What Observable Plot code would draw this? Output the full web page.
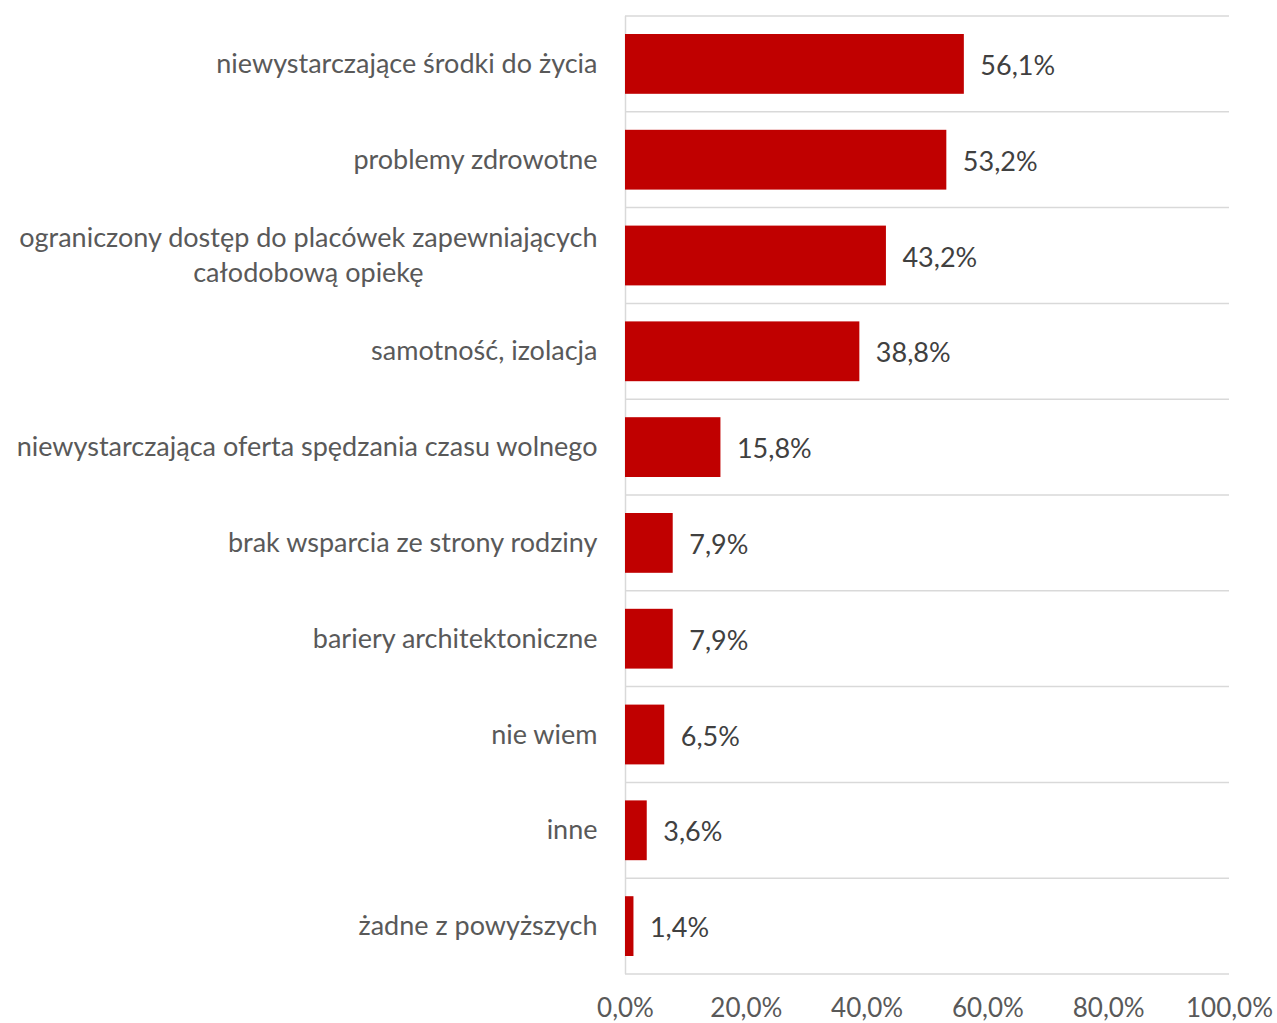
<!DOCTYPE html>
<html>
<head>
<meta charset="utf-8">
<script src="https://cdn.jsdelivr.net/npm/d3@7"></script>
<script src="https://cdn.jsdelivr.net/npm/@observablehq/plot@0.6"></script>
<style>
  html, body { margin: 0; padding: 0; background: #fff; }
  #chart svg { display: block; }
</style>
</head>
<body>
<div id="chart"></div>
<script>
const categories = [
  "niewystarczające środki do życia",
  "problemy zdrowotne",
  "ograniczony dostęp do placówek zapewniających\ncałodobową opiekę",
  "samotność, izolacja",
  "niewystarczająca oferta spędzania czasu wolnego",
  "brak wsparcia ze strony rodziny",
  "bariery architektoniczne",
  "nie wiem",
  "inne",
  "żadne z powyższych"
];
const values = [56.1, 53.2, 43.2, 38.8, 15.8, 7.9, 7.9, 6.5, 3.6, 1.4];
const xTicks = [0, 20, 40, 60, 80, 100];

const data = categories.map((c, i) => ({category: c, value: values[i]}));
const fmt = v => v.toFixed(1).replace(".", ",") + "%";
const FONT = "Lato, 'Open Sans', sans-serif";
const GRID = "#d9d9d9";

// horizontal gridlines at the band boundaries, drawn from the library's scales
const bandGrid = (index, scales) => {
  const {x, y} = scales;
  const g = d3.create("svg:g").attr("stroke", GRID).attr("stroke-width", 1.5);
  const edges = categories.map(c => y(c));
  edges.push(y(categories[categories.length - 1]) + y.bandwidth());
  for (const e of edges) {
    g.append("line")
      .attr("x1", x(0)).attr("x2", x(100))
      .attr("y1", e).attr("y2", e);
  }
  return g.node();
};

const chart = Plot.plot({
  width: 1277,
  height: 1023,
  marginLeft: 625,
  marginRight: 48,
  marginTop: 16,
  marginBottom: 49,
  style: {fontFamily: FONT, background: "#fff"},
  x: {domain: [0, 100]},
  y: {domain: categories, padding: 0, round: false},
  marks: [
    bandGrid,
    Plot.ruleX([0], {stroke: GRID, strokeWidth: 1.5}),
    Plot.barX(data, {x: "value", y: "category", fill: "#c00000", insetTop: 18, insetBottom: 18}),
    Plot.text(data, {x: "value", y: "category", text: d => fmt(d.value), textAnchor: "start", dx: 16, dy: 2, fill: "#404040", fontSize: 27}),
    Plot.axisY({tickSize: 0, tickPadding: 28, dy: -3, fontSize: 27, lineHeight: 1.33, color: "#595959", label: null}),
    Plot.axisX({ticks: xTicks, tickSize: 0, tickPadding: 24, fontSize: 26, color: "#595959", tickFormat: fmt, label: null})
  ]
});
document.getElementById("chart").appendChild(chart);

// center the two-line category label as in the original
chart.querySelectorAll("text").forEach(t => {
  const spans = t.querySelectorAll("tspan");
  if (spans.length === 2 && t.textContent.includes("ograniczony")) {
    const w = spans[0].getComputedTextLength();
    t.setAttribute("text-anchor", "middle");
    spans.forEach(s => s.setAttribute("x", -w / 2));
  }
});
</script>
</body>
</html>
